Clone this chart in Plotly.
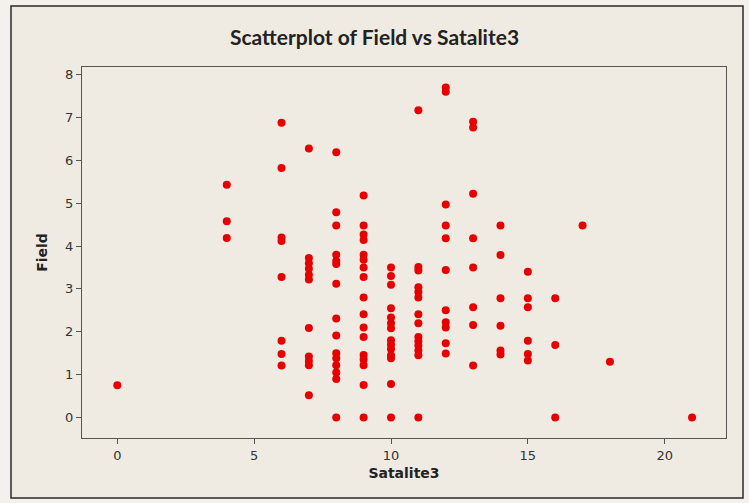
import plotly.graph_objects as go

# Data (Satalite3 value -> list of Field values)
sat_values = [0, 4, 6, 7, 8, 9, 10, 11, 12, 13, 14, 15, 16, 17, 18, 21]
field_by_sat = [
    [0.75],
    [5.43, 4.58, 4.19],
    [6.88, 5.82, 4.20, 4.12, 3.28, 1.79, 1.48, 1.21],
    [6.28, 3.72, 3.60, 3.47, 3.33, 3.22, 2.09, 1.42, 1.32, 1.22, 0.52],
    [6.19, 4.79, 4.48, 3.80, 3.65, 3.58, 3.12, 2.31, 1.91, 1.50, 1.38, 1.22, 1.05, 0.90, 0.0],
    [5.18, 4.48, 4.27, 4.14, 3.80, 3.68, 3.50, 3.28, 2.80, 2.41, 2.10, 1.88, 1.46, 1.35, 1.22, 0.76, 0.0],
    [3.50, 3.30, 3.10, 2.55, 2.33, 2.20, 2.08, 1.80, 1.70, 1.60, 1.45, 1.38, 0.78, 0.0],
    [7.17, 3.51, 3.43, 3.04, 2.93, 2.80, 2.41, 2.20, 1.88, 1.78, 1.68, 1.56, 1.45, 0.0],
    [7.70, 7.60, 4.97, 4.48, 4.18, 3.44, 2.50, 2.22, 2.10, 1.73, 1.49],
    [6.90, 6.77, 5.22, 4.18, 3.50, 2.57, 2.16, 1.21],
    [4.48, 3.79, 2.78, 2.14, 1.56, 1.47],
    [3.40, 2.78, 2.57, 1.79, 1.48, 1.33],
    [2.78, 1.69, 0.0],
    [4.48],
    [1.30],
    [0.0],
]
x_ticks = [0, 5, 10, 15, 20]
y_ticks = [0, 1, 2, 3, 4, 5, 6, 7, 8]

xs, ys = [], []
for s, fl in zip(sat_values, field_by_sat):
    for f in fl:
        xs.append(s)
        ys.append(f)

W, H = 749, 503
L, R, T, B = 82, 726, 67, 438

fig = go.Figure()
fig.add_trace(go.Scatter(
    x=xs, y=ys, mode="markers",
    marker=dict(color="#E60000", size=8, line=dict(width=0)),
    showlegend=False,
))

def px2paper_x(p):
    return (p - L) / (R - L)

def px2paper_y(p):
    return (B - p) / (B - T)

# outer frame of the graph window
fig.add_shape(type="rect", xref="paper", yref="paper", layer="below",
              x0=px2paper_x(11), x1=px2paper_x(743),
              y0=px2paper_y(498), y1=px2paper_y(6),
              fillcolor="#EFEBE3", line=dict(color="#2A2A2A", width=1.5))

axis_common = dict(
    showgrid=False, zeroline=False, showline=True, linecolor="#555555",
    linewidth=1, mirror=True, ticks="outside", ticklen=5, tickcolor="#555555",
    tickfont=dict(family="DejaVu Sans", size=13, color="#333333"),
)

fig.update_layout(
    width=W, height=H,
    margin=dict(l=L, r=W - R, t=T, b=H - B),
    paper_bgcolor="#F4F1EC",
    plot_bgcolor="#FFFFFF",
    title=dict(text="<b>Scatterplot of Field vs Satalite3</b>",
               font=dict(family="Lato", size=21, color="#222222"),
               x=0.5, xanchor="center",
               y=1 - 38 / H, yanchor="middle", yref="container"),
    xaxis=dict(range=[-1.29, 22.24], tickvals=x_ticks,
               title=dict(text="<b>Satalite3</b>", standoff=6,
                          font=dict(family="DejaVu Sans", size=14, color="#222222")),
               **axis_common),
    yaxis=dict(range=[-0.48, 8.18], tickvals=y_ticks,
               title=dict(text="<b>Field</b>", standoff=14,
                          font=dict(family="DejaVu Sans", size=14, color="#222222")),
               **axis_common),
)

fig.write_html("out.html")
